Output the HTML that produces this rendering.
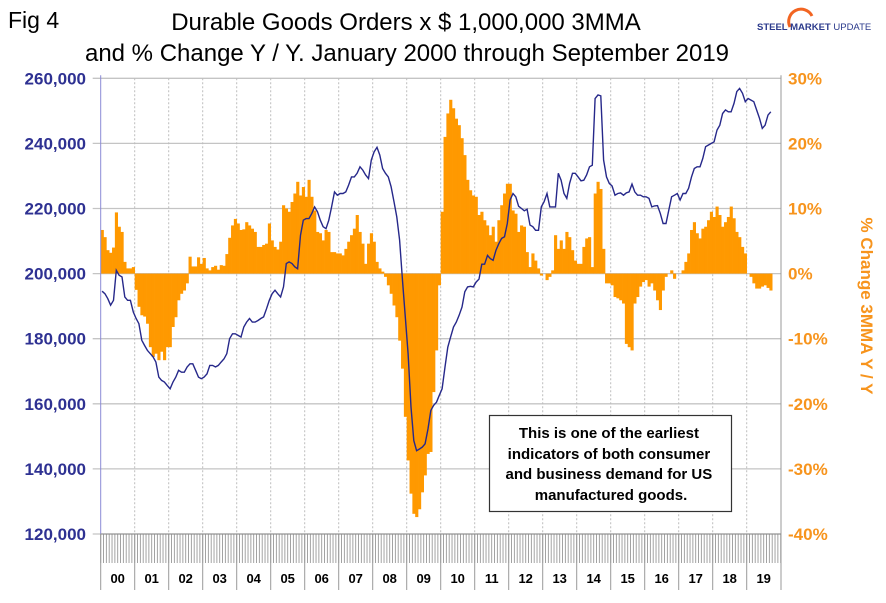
<!DOCTYPE html>
<html><head><meta charset="utf-8"><style>
body{margin:0;background:#fff;}
svg{display:block;font-family:"Liberation Sans",Arial,sans-serif;}
</style></head><body>
<svg id="chart" width="886" height="603" viewBox="0 0 886 603" xmlns="http://www.w3.org/2000/svg">
<text x="8" y="28" font-size="23" fill="#000">Fig 4</text>
<text x="406" y="30" font-size="24" text-anchor="middle" fill="#000">Durable Goods Orders x $ 1,000,000 3MMA</text>
<text x="407" y="61" font-size="24" text-anchor="middle" fill="#000">and % Change Y / Y. January 2000 through September 2019</text>
<g>
<path d="M790 27 A11 11 0 1 1 812 16" fill="none" stroke="#f26522" stroke-width="3"/>
<text x="757" y="30" font-size="9.5" font-weight="bold" fill="#2b3a8c">STEEL <tspan>MARKET</tspan> <tspan font-weight="normal">UPDATE</tspan></text>
</g>
<g id="grid"></g>
<g id="bars"></g>
<g id="line"></g>
<g id="axes"></g>
<g>
<rect x="489.5" y="415.5" width="242" height="96" fill="#fff" stroke="#333" stroke-width="1.2"/>
<text font-size="15" font-weight="bold" text-anchor="middle" fill="#000">
<tspan x="611" y="438">This is one of the earliest</tspan>
<tspan x="611" y="459">indicators of both consumer</tspan>
<tspan x="611" y="479">and business demand for US</tspan>
<tspan x="611" y="500">manufactured goods.</tspan>
</text>
</g>
<text transform="translate(861,306) rotate(90)" font-size="17" font-weight="bold" fill="#f7941d" text-anchor="middle">% Change 3MMA Y / Y</text>
</svg>
<script>
const years = ["00","01","02","03","04","05","06","07","08","09","10","11","12","13","14","15","16","17","18","19"];
const leftTicks = [120000,140000,160000,180000,200000,220000,240000,260000];
const rightTicks = [-40,-30,-20,-10,0,10,20,30];
const pctChange = [
6.7,5.6,3.6,3.2,4,9.4,7.2,6.4,1.8,0.8,0.8,1,
-2.5,-5.1,-6.4,-6.6,-7.7,-11.3,-12.8,-12.3,-13.3,-12,-13.3,-11.3,
-11.3,-8.2,-6.7,-4.1,-3.1,-2.6,-1.5,2.6,1.1,1.1,2.5,1.5,
2.4,0.8,0.5,1,1.2,0.6,1.3,1.2,3,5.5,7.4,8.4,
7.7,6.7,6.8,7.9,7.4,6.9,6.4,4.1,4.1,4.4,4.6,7.7,
5.1,4.1,3.7,4.9,10.5,10,9.5,11,12.3,14.1,12,13.3,
11.8,14.4,11.8,9.7,6.4,6.2,5.1,6.7,6.4,3.3,3.3,3.1,
3.1,2.8,3.8,4.9,5.9,6.9,9,6.4,4.6,1.5,4.6,6.2,
4.9,1.8,0.8,0.3,-0.5,-1.8,-3.1,-4.9,-6.7,-10.3,-14.6,-22,
-28.7,-33.8,-36.9,-37.4,-36.2,-33.6,-31,-27.7,-27.4,-18.2,-11.8,-1.8,
9.5,21,24.6,26.7,25.4,23.8,22.8,20.8,18.2,14.4,12.8,12,
11.8,9,9.5,8.2,7.4,5.9,7.2,4.9,8.2,10.5,12.3,13.8,
13.8,9.7,9.2,6.4,7.4,7.2,3.3,1,3.1,2,0.8,-0.3,
0,-1,-0.5,0.5,5.9,3.8,5.1,3.8,6.4,5.6,3.6,2,
1.5,1.5,4.1,5.4,5.6,1,12.3,14.1,13,3.8,-1.5,-1.5,
-1.8,-3.6,-3.8,-4.1,-4.6,-10.8,-11.3,-11.8,-4.6,-3.6,-2,-1.3,
-1,-2,-1.5,-2.6,-4.1,-5.6,-2.6,-0.5,0,0.5,-0.8,0,
0,0.5,1.8,3.1,6.7,7.9,6.2,5.4,6.9,7.2,8.2,9.5,
8.7,10.3,9,7.2,7.9,8.7,10.3,8.5,6.4,5.6,4.1,3.1,
0,-0.5,-1.5,-2.3,-2.3,-2,-1.8,-2.2,-2.6];
const ordersThousands = [
194.6,193.8,192.3,190.3,191.8,201,199.5,199,192.8,191.8,191.8,188.2,
186.2,184.6,179.5,177.9,176.4,175.4,174.4,172.8,168.2,167.2,166.7,165.6,
164.6,166.7,168.2,170.3,169.7,169.7,171.3,172.3,172.3,170.3,168.2,167.7,
168.2,169.2,171.8,171.8,171.3,171.8,172.8,173.8,175.4,180,181.5,181.5,
181,180.5,183.6,185.1,186.2,185.1,185.1,185.6,186.2,186.7,189.2,191.8,
193.8,194.9,193.8,192.8,195.9,203.1,203.6,203.1,202.1,201.5,211.8,216.4,
216.9,216.9,218.5,220.5,219,216.4,214.4,213.8,216.4,220.5,225.1,224.1,
224.6,224.6,225.1,227.2,229.7,229.7,230.8,232.8,231.8,230.3,229.2,234.9,
237.4,238.8,236.4,232.3,230.8,229.7,226.7,222.1,217.4,210.3,197.9,186.7,
175.4,159,148.7,145.6,146.1,146.7,147.7,152.3,157.9,159.5,160.5,162.6,
164.6,171.3,177.4,180.5,183.6,185.1,187.2,189.7,194.4,195.9,196.1,195.9,
197.4,198.3,202.9,202.9,205.6,204.6,204.1,207.2,209.2,210.8,211.3,215.4,
222.6,224.6,223.6,220.7,220,219.3,219.8,214.9,214.4,213.3,213.3,220.5,
222.1,224.6,220.5,220.5,220.5,230.8,228.7,224.6,223.1,227.7,230.8,230.8,
229.7,228.5,228.7,230.3,232.8,233.3,253.8,254.9,254.6,234.9,229.7,227.7,
226.9,224.1,224.6,224.8,224.1,224.8,225.1,227.5,225.1,224.1,224.1,223.6,
223.6,223.1,220.5,220.8,220.9,218.5,215.4,215.4,219.5,223.6,224.1,224.6,
222.6,224.6,224.6,226.2,229.7,232.3,232.8,232.8,235.4,239,239.5,240,
240.5,244.1,245.6,249.2,250.3,249.7,249.7,252.3,255.9,256.9,255.4,252.8,
253.8,253.3,252.8,250.3,247.7,244.6,245.6,248.7,249.7];

const NS="http://www.w3.org/2000/svg";
const X0=100.7, YW=34, MW=YW/12, XR=781, YT=78.3, YB=534;
function xMonth(i){return X0+i*MW;}
function yLeft(v){return YT+(260000-v)/140000*(YB-YT);}
function yRight(p){return YT+(30-p)/70*(YB-YT);}
function mk(tag,attrs,parent){const e=document.createElementNS(NS,tag);for(const k in attrs)e.setAttribute(k,attrs[k]);parent.appendChild(e);return e;}
const grid=document.getElementById('grid'),bars=document.getElementById('bars'),line=document.getElementById('line'),axes=document.getElementById('axes');

leftTicks.forEach((t,i)=>{
  const y=yLeft(t);
  const g=mk('line',{x1:X0-8,x2:XR,y1:y,y2:y,stroke:'#c4c4c4','stroke-width':1.3},grid);
  
  
  const tl=mk('text',{x:86,y:y+6,'font-size':17,'font-weight':'bold',fill:'#2e3192','text-anchor':'end'},axes);
  tl.textContent=t.toLocaleString('en-US');
  
  
});
rightTicks.forEach(p=>{
  const y=yRight(p);
  const tr=mk('text',{x:788,y:y+6,'font-size':17,'font-weight':'bold',fill:'#f7941d'},axes);
  tr.textContent=p+'%';
  
  
});
years.forEach((yr,i)=>{
  const x=X0+i*YW;
  if(i>0){const v=mk('line',{x1:x,x2:x,y1:YT,y2:YB,stroke:'#bdbdbd','stroke-width':1,'stroke-dasharray':'2,2'},grid);
  
  }
  const d=mk('line',{x1:x,x2:x,y1:YB,y2:590,stroke:'#999','stroke-width':1},axes);
  
  
  const lbl=mk('text',{x:x+YW/2,y:583,'font-size':13,'font-weight':'bold','text-anchor':'middle',fill:'#000'},axes);
  lbl.textContent=yr;
  
  
});
mk('line',{x1:XR,x2:XR,y1:590,y2:YB,stroke:'#999'},axes);
for(let m=0;m<=240;m++){
  const x=xMonth(m);
  mk('line',{x1:x,x2:x,y1:YB,y2:563,stroke:'#999','stroke-width':0.9},axes);
}
pctChange.forEach((p,i)=>{
  const y0=yRight(0), y=yRight(p);
  const r=mk('rect',{x:xMonth(i),y:Math.min(y,y0),width:MW+0.3,height:Math.abs(y-y0),fill:'#ff9900'},bars);
  
  
});
const pts=ordersThousands.map((v,i)=>(xMonth(i)+MW/2).toFixed(1)+','+yLeft(v*1000).toFixed(1)).join(' ');
const pl=mk('polyline',{points:pts,fill:'none',stroke:'#26288a','stroke-width':1.4},line);


const la=mk('line',{x1:X0,x2:X0,y1:YT-3,y2:YB,stroke:'#8a8ad6','stroke-width':1},axes);


const ra=mk('line',{x1:XR,x2:XR,y1:YT-3,y2:YB,stroke:'#999','stroke-width':1},axes);


const ba=mk('line',{x1:X0,x2:XR,y1:YB,y2:YB,stroke:'#888','stroke-width':1},axes);


</script>
</body></html>
